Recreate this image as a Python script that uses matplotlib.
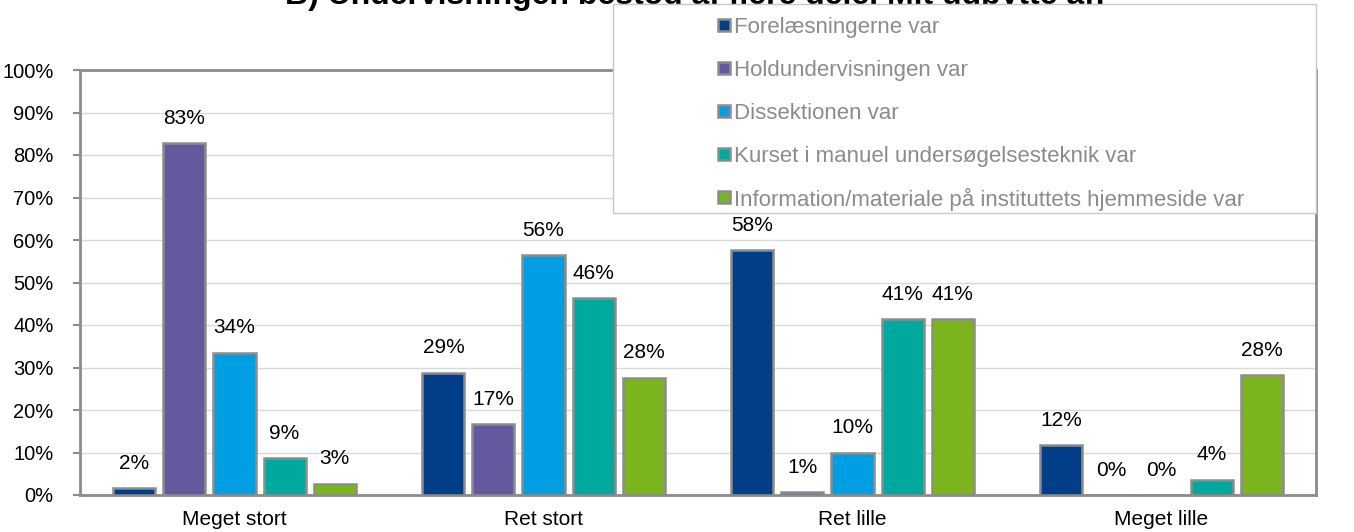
import matplotlib.pyplot as plt
import matplotlib.patches as mpatches
import numpy as np

plt.rcParams['font.family'] = ['Liberation Sans', 'DejaVu Sans']

kategorier = ["Meget stort", "Ret stort", "Ret lille", "Meget lille"]
serier = ["Forelæsningerne var",
          "Holdundervisningen var",
          "Dissektionen var",
          "Kurset i manuel undersøgelsesteknik var",
          "Information/materiale på instituttets hjemmeside var"]
farver = ["#003f87", "#66589f", "#009fe3", "#00a99d", "#7ab51d"]

forelaesning = [1.6, 28.8, 57.6, 11.7]
holdundervisning = [82.8, 16.6, 0.7, 0.0]
dissektion = [33.5, 56.4, 10.0, 0.0]
kursus = [8.6, 46.3, 41.4, 3.6]
information = [2.7, 27.6, 41.3, 28.2]
data = [forelaesning, holdundervisning, dissektion, kursus, information]

W, H = 1354, 532
fig = plt.figure(figsize=(W / 100, H / 100), dpi=100)
ax = fig.add_axes([80 / W, 1 - 495 / H, (1316 - 80) / W, (495 - 70) / H])

x = np.arange(len(kategorier))
bredde = 0.136
step = 0.162
for i, (vals, navn, farve) in enumerate(zip(data, serier, farver)):
    pos = x + (i - 2) * step
    ax.bar(pos, vals, bredde, color=farve, edgecolor="#8c8c8c",
           linewidth=1.8, label=navn, zorder=3)
    for p, v in zip(pos, vals):
        ax.text(p, v + 3.6, f"{v:.0f}%", ha="center", va="bottom", fontsize=15)

ax.set_xlim(-0.5, 3.5)
ax.set_ylim(0, 100)
ax.set_yticks(np.arange(0, 101, 10))
ax.set_yticklabels([f"{t}%" for t in range(0, 101, 10)], fontsize=14.5)
ax.set_xticks(x)
ax.set_xticklabels(kategorier, fontsize=15)
ax.tick_params(axis="x", length=0, pad=11)
ax.tick_params(axis="y", length=5, color="#8c8c8c", width=1.5, pad=14)
ax.grid(axis="y", color="#d9d9d9", linewidth=1, zorder=0)
for s in ax.spines.values():
    s.set_color("#8c8c8c")
    s.set_linewidth(2)

# titlen er delvist skjult i originalen
fig.text(695 / W, 1 - 4 / H, "B) Undervisningen bestod af flere dele. Mit udbytte af:",
         ha="center", va="baseline", fontsize=23, fontweight="bold")

# legend box
boks = mpatches.Rectangle((613 / W, 1 - 213 / H), (1316 - 613) / W, (213 - 4) / H,
                          transform=fig.transFigure, facecolor="white",
                          edgecolor="#c8c8c8", linewidth=1, zorder=5)
fig.patches.append(boks)
for i, (navn, farve) in enumerate(zip(serier, farver)):
    yc = 25 + i * 43
    fig.patches.append(mpatches.Rectangle((718 / W, 1 - (yc + 6) / H), 12 / W, 12 / H,
                                          transform=fig.transFigure, facecolor=farve,
                                          edgecolor="#8c8c8c", linewidth=1.8, zorder=6))
    fig.text(734 / W, 1 - yc / H, navn, ha="left", va="center_baseline",
             fontsize=16, color="#8c8c8c", zorder=7)

fig.savefig("out.png", dpi=100)
